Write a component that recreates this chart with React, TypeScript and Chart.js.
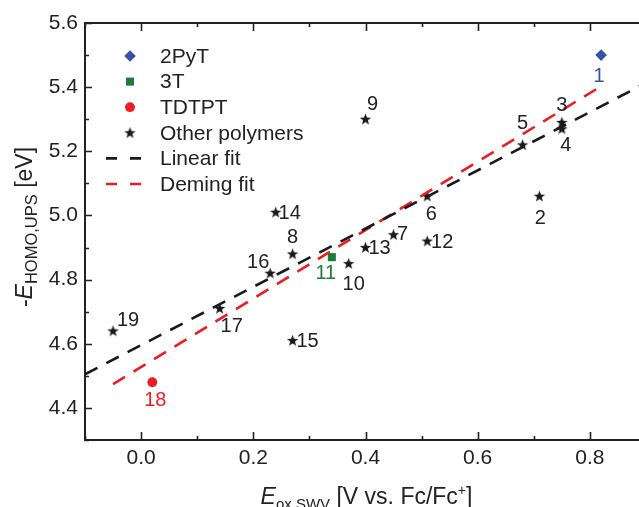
import React, { useEffect, useRef } from 'react';
import { Chart, registerables } from 'chart.js';
import { drawPoint } from 'chart.js/helpers';

Chart.register(...registerables);

// ---------- data ----------
const polymerIds = [1, 2, 3, 4, 5, 6, 7, 8, 9, 10, 11, 12, 13, 14, 15, 16, 17, 18, 19];
const eoxSwv = [0.82, 0.71, 0.75, 0.75, 0.68, 0.51, 0.45, 0.27, 0.40, 0.37, 0.34, 0.51, 0.40, 0.24, 0.27, 0.23, 0.14, 0.02, -0.05];
const eHomoUps = [5.50, 5.06, 5.29, 5.27, 5.22, 5.06, 4.94, 4.88, 5.30, 4.85, 4.87, 4.92, 4.90, 5.01, 4.61, 4.82, 4.71, 4.48, 4.64];
const polymerGroup = [
  '2PyT', 'Other polymers', 'Other polymers', 'Other polymers', 'Other polymers', 'Other polymers',
  'Other polymers', 'Other polymers', 'Other polymers', 'Other polymers', '3T', 'Other polymers',
  'Other polymers', 'Other polymers', 'Other polymers', 'Other polymers', 'Other polymers', 'TDTPT',
  'Other polymers',
];
const groupNames = ['2PyT', '3T', 'TDTPT', 'Other polymers'];

const linearFitX = [-0.1, 0.9];
const linearFitY = [4.505, 5.413];
const demingFitX = [-0.05, 0.82];
const demingFitY = [4.474, 5.403];

const xMin = -0.1;
const xMax = 0.9;
const yMin = 4.3;
const yMax = 5.6;
const tickStep = 0.1;

// ---------- styles ----------
const FONT = '"Liberation Sans", Arial, Helvetica, sans-serif';
const INK = '#222222';
const groupColors: Record<string, string> = {
  '2PyT': '#3953a4',
  '3T': '#1b7d3a',
  'TDTPT': '#ec1c24',
  'Other polymers': '#1a1a1a',
};
// label offsets (pixels) relative to each marker, keyed by polymer id
const labelOffsets: Record<number, [number, number]> = {
  1: [-2, 20], 2: [1, 21], 3: [0, -18], 4: [4, 16], 5: [0, -22], 6: [4, 17], 7: [9, -1],
  8: [0, -17], 9: [7, -16], 10: [5, 20], 11: [-6, 15], 12: [15, 0], 13: [14, 0], 14: [14, 0],
  15: [15, 0], 16: [-12, -12], 17: [12, 17], 18: [3, 17], 19: [15, -11],
};

function makeStar(color: string): HTMLCanvasElement {
  const c = document.createElement('canvas');
  c.width = 13;
  c.height = 13;
  const g = c.getContext('2d')!;
  g.fillStyle = color;
  g.beginPath();
  const cx = 6.5, cy = 6.8, ro = 6, ri = 2.5;
  for (let i = 0; i < 10; i++) {
    const r = i % 2 === 0 ? ro : ri;
    const a = -Math.PI / 2 + (i * Math.PI) / 5;
    const px = cx + r * Math.cos(a);
    const py = cy + r * Math.sin(a);
    if (i === 0) g.moveTo(px, py); else g.lineTo(px, py);
  }
  g.closePath();
  g.fill();
  return c;
}

type Seg = { t: string; size: number; italic?: boolean; dy?: number };

function drawRich(ctx: CanvasRenderingContext2D, segs: Seg[], cx: number, baseY: number) {
  const fontOf = (s: Seg) => `${s.italic ? 'italic ' : ''}${s.size}px ${FONT}`;
  let total = 0;
  for (const s of segs) { ctx.font = fontOf(s); total += ctx.measureText(s.t).width; }
  let x = cx - total / 2;
  ctx.textAlign = 'left';
  ctx.textBaseline = 'alphabetic';
  for (const s of segs) {
    ctx.font = fontOf(s);
    ctx.fillText(s.t, x, baseY + (s.dy || 0));
    x += ctx.measureText(s.t).width;
  }
}

const isMajor = (v: number) => Math.abs(Math.round(v * 10)) % 2 === 0;

export default function App() {
  const ref = useRef<HTMLCanvasElement | null>(null);

  useEffect(() => {
    const canvas = ref.current;
    if (!canvas) return;
    const star = makeStar(groupColors['Other polymers']);

    const pointStyles: Record<string, any> = {
      '2PyT': 'rectRot',
      '3T': 'rect',
      'TDTPT': 'circle',
      'Other polymers': star,
    };
    const pointRadii: Record<string, number> = { '2PyT': 5.8, '3T': 5.7, 'TDTPT': 4.9, 'Other polymers': 6 };

    const scatterSets = groupNames.map((g) => {
      const idx = polymerIds.map((_, i) => i).filter((i) => polymerGroup[i] === g);
      return {
        type: 'scatter' as const,
        label: g,
        data: idx.map((i) => ({ x: eoxSwv[i], y: eHomoUps[i] })),
        ids: idx.map((i) => polymerIds[i]),
        pointStyle: pointStyles[g],
        pointRadius: pointRadii[g],
        pointHoverRadius: pointRadii[g],
        backgroundColor: groupColors[g],
        borderColor: groupColors[g],
        borderWidth: 0,
        order: 2,
      };
    });

    const fitSets = [
      {
        type: 'line' as const,
        label: 'Linear fit',
        data: linearFitX.map((x, i) => ({ x, y: linearFitY[i] })),
        borderColor: '#1a1a1a',
        borderWidth: 2.6,
        borderDash: [14, 10],
        pointRadius: 0,
        fill: false,
        order: 1,
      },
      {
        type: 'line' as const,
        label: 'Deming fit',
        data: demingFitX.map((x, i) => ({ x, y: demingFitY[i] })),
        borderColor: '#ec1c24',
        borderWidth: 2.6,
        borderDash: [14, 10],
        pointRadius: 0,
        fill: false,
        order: 1,
      },
    ];

    const decor = {
      id: 'decor',
      afterDraw(chart: any) {
        const ctx: CanvasRenderingContext2D = chart.ctx;
        const ca = chart.chartArea;
        const xs = chart.scales.x;
        const ys = chart.scales.y;
        ctx.save();
        // frame (top/right)
        ctx.strokeStyle = INK;
        ctx.lineWidth = 2;
        ctx.beginPath();
        ctx.moveTo(ca.left - 1, ca.top);
        ctx.lineTo(ca.right, ca.top);
        ctx.lineTo(ca.right, ca.bottom);
        ctx.stroke();
        // ticks (inward)
        ctx.lineWidth = 1.6;
        ctx.beginPath();
        for (const t of xs.ticks) {
          const px = Math.round(xs.getPixelForValue(t.value)) + 0.5;
          const len = isMajor(t.value) ? 8 : 4;
          ctx.moveTo(px, ca.bottom);
          ctx.lineTo(px, ca.bottom - len);
          ctx.moveTo(px, ca.top);
          ctx.lineTo(px, ca.top + len);
        }
        for (const t of ys.ticks) {
          const py = Math.round(ys.getPixelForValue(t.value)) + 0.5;
          const len = isMajor(t.value) ? 7 : 4;
          ctx.moveTo(ca.left, py);
          ctx.lineTo(ca.left + len, py);
          ctx.moveTo(ca.right, py);
          ctx.lineTo(ca.right - len, py);
        }
        ctx.stroke();

        // point labels
        ctx.font = `20px ${FONT}`;
        ctx.textAlign = 'center';
        ctx.textBaseline = 'middle';
        chart.data.datasets.forEach((ds: any, di: number) => {
          if (!ds.ids) return;
          const meta = chart.getDatasetMeta(di);
          ctx.fillStyle = ds.label === 'Other polymers' ? INK : ds.backgroundColor;
          meta.data.forEach((el: any, i: number) => {
            const id = ds.ids[i];
            const off = labelOffsets[id] || [0, 0];
            ctx.fillText(String(id), el.x + off[0], el.y + off[1] + 1);
          });
        });

        // legend
        const lx = 130, tx = 160, ly0 = 56, dy = 25.6;
        chart.data.datasets.forEach((ds: any, i: number) => {
          const y = ly0 + i * dy;
          if (ds.type === 'line') {
            ctx.strokeStyle = ds.borderColor;
            ctx.lineWidth = ds.borderWidth;
            ctx.setLineDash([11, 13]);
            ctx.beginPath();
            ctx.moveTo(106, y);
            ctx.lineTo(145, y);
            ctx.stroke();
            ctx.setLineDash([]);
          } else {
            ctx.fillStyle = ds.backgroundColor;
            ctx.strokeStyle = ds.borderColor;
            ctx.lineWidth = 0;
            drawPoint(ctx, { pointStyle: ds.pointStyle, radius: ds.pointRadius, rotation: 0, borderWidth: 0 } as any, lx, y);
          }
          ctx.fillStyle = INK;
          ctx.font = `21px ${FONT}`;
          ctx.textAlign = 'left';
          ctx.textBaseline = 'middle';
          ctx.fillText(ds.label, tx, y + 1);
        });

        // axis titles
        ctx.fillStyle = INK;
        drawRich(ctx, [
          { t: 'E', size: 23, italic: true },
          { t: 'ox,SWV', size: 15, dy: 5 },
          { t: ' [V vs. Fc/Fc', size: 23 },
          { t: '+', size: 14, dy: -9 },
          { t: ']', size: 23 },
        ], 366.5, 503.5);
        ctx.save();
        ctx.translate(31.5, 227);
        ctx.rotate(-Math.PI / 2);
        drawRich(ctx, [
          { t: '-', size: 23 },
          { t: 'E', size: 23, italic: true },
          { t: 'HOMO,UPS', size: 16.5, dy: 5 },
          { t: ' [eV]', size: 23 },
        ], 0, 0);
        ctx.restore();
        ctx.restore();
      },
    };

    const chart = new Chart(canvas, {
      data: { datasets: [...scatterSets, ...fitSets] as any },
      options: {
        responsive: false,
        animation: false,
        devicePixelRatio: 1,
        layout: { padding: { top: 23, right: 14, left: 0, bottom: 0 } },
        plugins: { legend: { display: false }, tooltip: { enabled: false } },
        scales: {
          x: {
            type: 'linear',
            min: xMin,
            max: xMax,
            afterFit: (s: any) => { s.height = 67; },
            grid: { drawOnChartArea: false, drawTicks: false },
            border: { display: true, color: INK, width: 2 },
            ticks: {
              stepSize: tickStep,
              autoSkip: false,
              maxRotation: 0,
              padding: 6,
              color: INK,
              font: { family: FONT, size: 21 },
              callback: (v: any) => {
                const n = Number(v);
                return isMajor(n) && n > xMin + 0.05 && n < xMax - 0.05 ? n.toFixed(1) : '';
              },
            },
          },
          y: {
            type: 'linear',
            min: yMin,
            max: yMax,
            afterFit: (s: any) => { s.width = 85; },
            grid: { drawOnChartArea: false, drawTicks: false },
            border: { display: true, color: INK, width: 2 },
            ticks: {
              stepSize: tickStep,
              autoSkip: false,
              padding: 7,
              color: INK,
              font: { family: FONT, size: 21 },
              callback: (v: any) => {
                const n = Number(v);
                return isMajor(n) && n > yMin + 0.05 ? n.toFixed(1) : '';
              },
            },
          },
        },
      },
      plugins: [decor],
    });
    return () => chart.destroy();
  }, []);

  return (
    <div style={{ position: 'fixed', left: 0, top: 0, width: 639, height: 507, overflow: 'hidden', background: '#fff' }}>
      <canvas ref={ref} width={660} height={507} style={{ display: 'block', width: 660, height: 507 }} />
    </div>
  );
}
